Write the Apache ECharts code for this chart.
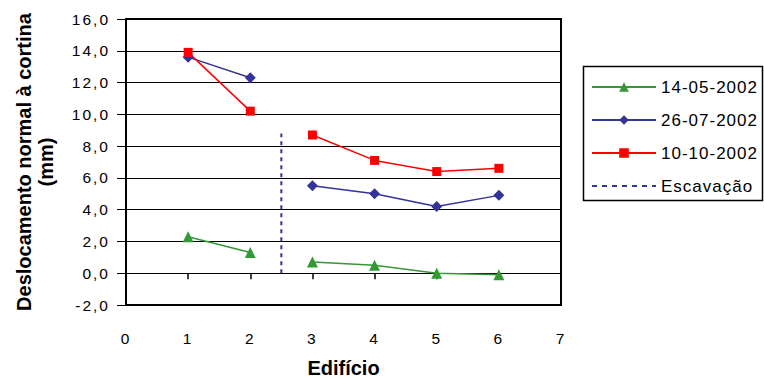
<!DOCTYPE html>
<html>
<head>
<meta charset="utf-8">
<script src="https://cdn.jsdelivr.net/npm/echarts@6/dist/echarts.min.js"></script>
<style>
html,body{margin:0;padding:0;background:#fff}
#c{width:764px;height:379px}
#c svg text{letter-spacing:2px}
#c svg text[style*="17px"], #c svg text[font-size="17px"], #c svg text[font-size="17"]{letter-spacing:1px}
#c svg text[style*="bold"], #c svg text[font-weight="bold"]{letter-spacing:0}
</style>
</head>
<body>
<div id="c"></div>
<script>
const edificios = [1, 2, 3, 4, 5, 6];
const serieNames = ['14-05-2002', '26-07-2002', '10-10-2002', 'Escavação'];
const s140502 = [2.3, 1.3, 0.7, 0.5, 0.0, -0.1];
const s260702 = [13.6, 12.3, 5.5, 5.0, 4.2, 4.9];
const s101002 = [13.9, 10.2, 8.7, 7.1, 6.4, 6.6];
const escavacaoX = 2.5;
const escavacaoY = [0, 8.8];
const yTicks = [-2, 0, 2, 4, 6, 8, 10, 12, 14, 16];
const xTicks = [0, 1, 2, 3, 4, 5, 6, 7];

function build(vals) {
  const out = [];
  edificios.forEach((x, i) => {
    if (x === 3) out.push([escavacaoX, '-']);
    out.push([x, vals[i]]);
  });
  return out;
}

const FONT = 'Liberation Sans, Arial, sans-serif';
const chart = echarts.init(document.getElementById('c'), null, {renderer: 'svg'});
chart.setOption({
  animation: false,
  textStyle: {fontFamily: FONT},
  grid: {left: 126, right: 203, top: 19, bottom: 74, containLabel: false, outerBoundsMode: 'none',
    show: true, borderColor: '#000', borderWidth: 2, backgroundColor: 'transparent'},
  graphic: [{
    type: 'rect', z: 100,
    shape: {x: 583.5, y: 66.5, width: 179, height: 134},
    style: {fill: 'none', stroke: '#000', lineWidth: 1.5}
  }],
  legend: {
    orient: 'vertical', left: 591, top: 78.5,
    padding: 0,
    itemWidth: 64, itemHeight: 12, itemGap: 16,
    textStyle: {fontFamily: FONT, fontSize: 17, color: '#000'},
    data: [serieNames[0], serieNames[1], serieNames[2], {
      name: serieNames[3],
      itemStyle: {color: 'rgba(0,0,0,0)', borderColor: 'rgba(0,0,0,0)', borderWidth: 0},
      lineStyle: {type: [5, 5], width: 2, color: '#333399'}
    }]
  },
  xAxis: [{
    type: 'value', min: xTicks[0], max: xTicks[xTicks.length - 1], interval: 1,
    position: 'bottom',
    axisLine: {show: false, onZero: false},
    axisTick: {show: false},
    splitLine: {show: false},
    axisLabel: {fontSize: 15.5, color: '#000', margin: 25, fontFamily: FONT},
    name: 'Edifício', nameLocation: 'middle', nameGap: 53,
    nameTextStyle: {fontSize: 20, fontWeight: 'bold', color: '#000', fontFamily: FONT}
  }, {
    type: 'value', min: xTicks[0], max: xTicks[xTicks.length - 1], interval: 1,
    position: 'bottom',
    axisLine: {show: true, onZero: true, lineStyle: {color: '#000', width: 1}},
    axisTick: {show: true, length: 6, lineStyle: {color: '#000', width: 1.5}},
    axisLabel: {show: false},
    splitLine: {show: false}
  }],
  yAxis: {
    type: 'value', min: yTicks[0], max: yTicks[yTicks.length - 1], interval: 2,
    axisLine: {show: true, lineStyle: {color: '#000', width: 2}},
    axisTick: {show: true, length: 9, lineStyle: {color: '#000', width: 1}},
    splitLine: {show: true, lineStyle: {color: '#000', width: 1.2}},
    axisLabel: {fontSize: 15.5, color: '#000', margin: 16, fontFamily: FONT,
      formatter: v => v.toFixed(1).replace('.', ',')},
    name: 'Deslocamento normal à cortina\n(mm)', nameLocation: 'middle', nameGap: 69,
    nameTextStyle: {fontSize: 20, fontWeight: 'bold', color: '#000', fontFamily: FONT, lineHeight: 22}
  },
  series: [{
    name: serieNames[0], type: 'line', data: build(s140502),
    symbol: 'triangle', symbolSize: 11,
    itemStyle: {color: '#339933'}, lineStyle: {color: '#339933', width: 1.5}
  }, {
    name: serieNames[1], type: 'line', data: build(s260702),
    symbol: 'diamond', symbolSize: 11,
    itemStyle: {color: '#333399'}, lineStyle: {color: '#333399', width: 1.5}
  }, {
    name: serieNames[2], type: 'line', data: build(s101002),
    symbol: 'rect', symbolSize: 9,
    itemStyle: {color: '#ff0000'}, lineStyle: {color: '#ff0000', width: 1.5}
  }, {
    name: serieNames[3], type: 'line', data: escavacaoY.map(y => [escavacaoX, y]),
    symbol: 'none', showSymbol: false,
    itemStyle: {color: '#333399'}, lineStyle: {color: '#333399', width: 2, type: [4, 4]}
  }]
});
</script>
</body>
</html>
